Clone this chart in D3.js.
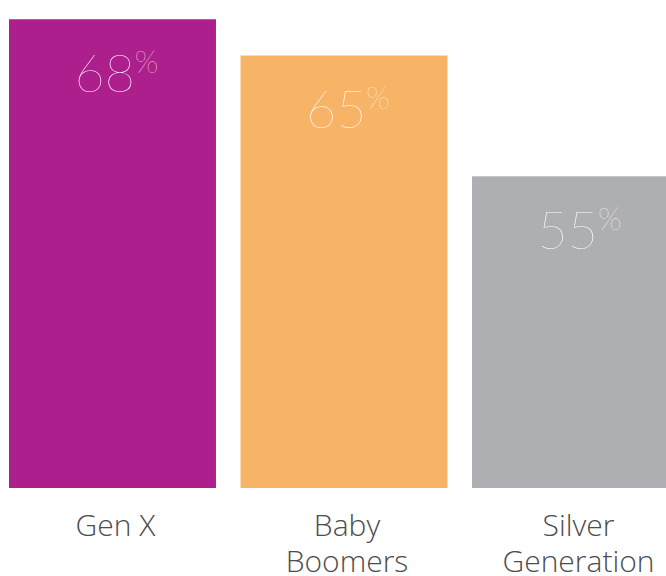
<!DOCTYPE html>
<html>
<head>
<script src="https://cdn.jsdelivr.net/npm/d3@7"></script>
<style>
  body { margin: 0; background: #fff; }
  svg { display: block; }
</style>
</head>
<body>
<div id="chart"></div>
<script>
    // data
    var categories = ["Gen X", "Baby Boomers", "Silver Generation"];
    var labelLines = [["Gen X"], ["Baby", "Boomers"], ["Silver", "Generation"]];
    var values = [68, 65, 55];
    var colours = ["#ad1f8c", "#f8b466", "#aeafb2"];

    var width = 666, height = 576;
    var baseY = 488;

    var svg = d3.select("#chart").append("svg")
        .attr("width", width)
        .attr("height", height);

    var x = d3.scaleBand()
        .domain(categories)
        .range([9, 679])
        .paddingInner(0.106)
        .paddingOuter(0);

    // the original bars do not start from zero, so the domain is a best fit
    var y = d3.scaleLinear()
        .domain([29.2, 68.6])
        .range([baseY, 12]);

    svg.selectAll("rect.bar")
        .data(values)
        .enter().append("rect")
        .attr("class", "bar")
        .attr("x", (d, i) => x(categories[i]))
        .attr("y", d => y(d))
        .attr("width", x.bandwidth())
        .attr("height", d => baseY - y(d))
        .attr("fill", (d, i) => colours[i]);

    // value labels inside the bars
    var vals = svg.selectAll("text.val")
        .data(values)
        .enter().append("text")
        .attr("class", "val")
        .attr("x", (d, i) => x(categories[i]) + x.bandwidth() / 2 + 4)
        .attr("y", d => y(d) + 73)
        .attr("text-anchor", "middle")
        .attr("fill", "#fff")
        .style("font-family", "Lato, 'Open Sans', sans-serif")
        .style("font-weight", 100);

    vals.append("tspan")
        .style("font-size", "52px")
        .text(d => d);
    vals.append("tspan")
        .attr("dy", -19)
        .style("font-size", "31px")
        .text("%");

    // category labels under the bars
    var cats = svg.selectAll("text.cat")
        .data(labelLines)
        .enter().append("text")
        .attr("class", "cat")
        .attr("text-anchor", "middle")
        .attr("fill", "#4d4d4d")
        .style("font-family", "'Open Sans', sans-serif")
        .style("font-weight", 300)
        .style("font-size", "30px");

    cats.each(function(lines, i) {
        var t = d3.select(this);
        var cx = x(categories[i]) + x.bandwidth() / 2 + 3;
        lines.forEach(function(line, j) {
            t.append("tspan")
                .attr("x", cx)
                .attr("y", 536 + j * 36)
                .text(line);
        });
    });
</script>
</body>
</html>
